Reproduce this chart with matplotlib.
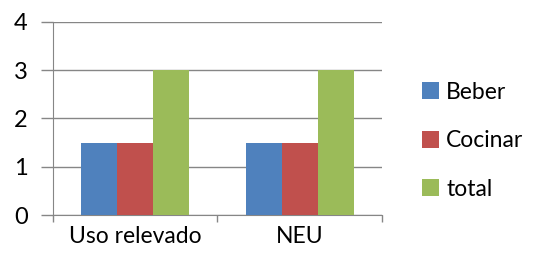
import numpy as np
import matplotlib.pyplot as plt

categories = ['Uso relevado', 'NEU']
series_names = ['Beber', 'Cocinar', 'total']
beber = [1.5, 1.5]
cocinar = [1.5, 1.5]
total = [3, 3]
colors = ['#4F81BD', '#C0504D', '#9BBB59']

plt.rcParams['font.family'] = ['Lato', 'DejaVu Sans']

fig = plt.figure(figsize=(5.34, 2.61), dpi=100)
ax = fig.add_axes([0.099, 0.176, 0.616, 0.74])

x = np.arange(len(categories))
w = 0.219
for i, (vals, name) in enumerate(zip([beber, cocinar, total], series_names)):
    ax.bar(x + (i - 1) * w, vals, w, color=colors[i], label=name, zorder=3)

ax.set_xlim(-0.5, 1.5)
ax.set_ylim(0, 4)
ax.set_yticks([0, 1, 2, 3, 4])
ax.yaxis.grid(True, color='#868686', linewidth=1, zorder=0)

# category labels centred, tick marks on the boundaries
ax.set_xticks([-0.5, 0.5, 1.5])
ax.set_xticklabels([])
ax.set_xticks(x, minor=True)
ax.set_xticklabels(categories, minor=True, fontsize=16.5)
ax.tick_params(axis='x', which='minor', length=0, pad=8)
ax.tick_params(axis='x', which='major', length=5, color='#868686', width=1)
ax.tick_params(axis='y', length=9, color='#868686', width=1, labelsize=17, pad=9)

for s in ['top', 'right']:
    ax.spines[s].set_visible(False)
for s in ['left', 'bottom']:
    ax.spines[s].set_color('#868686')

ax.legend(loc='center left', bbox_to_anchor=(1.06, 0.385), frameon=False,
          fontsize=16.5, handlelength=0.75, handleheight=0.75,
          handletextpad=0.3, labelspacing=1.2)

fig.savefig('out.png', dpi=100)
